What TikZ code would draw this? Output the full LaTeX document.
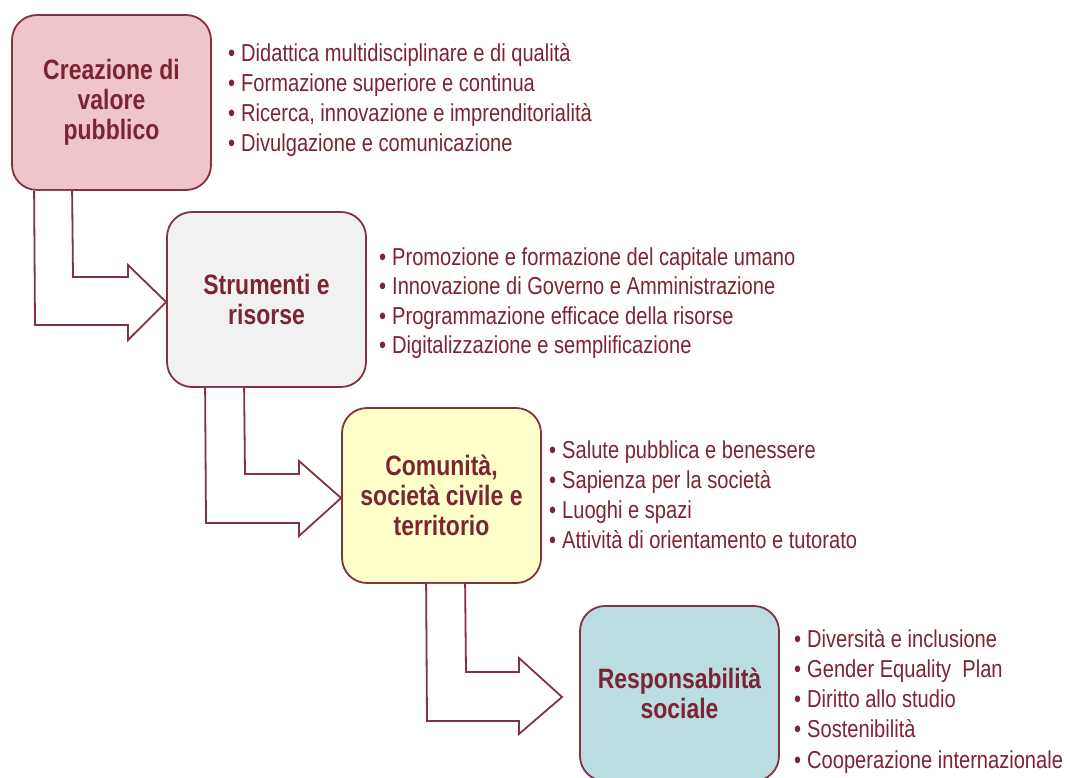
\documentclass[tikz,border=0pt]{standalone}
\usepackage{fontspec}
\setmainfont{Liberation Sans}[FakeStretch=0.82]
\usetikzlibrary{calc}
\definecolor{maroon}{HTML}{7D2434}
\definecolor{edge}{HTML}{84323F}
\definecolor{fillA}{HTML}{EFC4CB}
\definecolor{fillB}{HTML}{F1F1F1}
\definecolor{fillC}{HTML}{FFFFC9}
\definecolor{fillD}{HTML}{B9DDE0}
\tikzset{
  stage/.style={draw=edge, line width=1.8pt, rounded corners=25pt, minimum width=199pt, minimum height=175pt, inner sep=0pt, align=center, text=maroon, font=\fontsize{28}{30}\selectfont\bfseries},
  item/.style={anchor=base west, inner sep=0pt, text=maroon, font=\fontsize{24.5}{30}\selectfont},
  blockarrow/.style={draw=edge, line width=1.8pt, fill=white, line join=miter}
}
\newcommand{\bul}{•\hspace{6pt}}
\begin{document}
\begin{tikzpicture}[x=1pt,y=1pt]
\useasboundingbox (0,0) rectangle (1067,-778);
\clip (0,0) rectangle (1067,-778);
% boxes
\node[stage, fill=fillA] (s1) at (111.5,-102.5) {\raisebox{-2pt}{\parbox{190pt}{\centering Creazione di\\valore\\pubblico}}};
\node[stage, fill=fillB] (s2) at (266.5,-299.5) {Strumenti e\\risorse};
\node[stage, fill=fillC] (s3) at (441.5,-495.5) {Comunità,\\società civile e\\territorio};
\node[stage, fill=fillD] (s4) at (679.5,-693.5) {Responsabilità\\sociale};
% arrows
\draw[blockarrow] ([xshift=23pt]s1.south west) -- (35,-325) -- (128,-325) -- (128,-340) -- (s2.west |- 0,-302) -- (128,-265) -- (128,-277) -- (73,-277) -- ([xshift=61pt]s1.south west);
\draw[blockarrow] ([xshift=39pt]s2.south west) -- (206,-523) -- (299,-523) -- (299,-536) -- (s3.west |- 0,-498) -- (299,-461) -- (299,-474) -- (245,-474) -- ([xshift=78pt]s2.south west);
\draw[blockarrow] ([xshift=85pt]s3.south west) -- (427,-721) -- (519,-721) -- (519,-734) -- (562,-697) -- (519,-658) -- (519,-672) -- (466,-672) -- ([xshift=124pt]s3.south west);
% lists
\node[item] (a1) at (228,-62) {\bul Didattica multidisciplinare e di qualità};
\node[item] (a2) at (228,-92) {\bul Formazione superiore e continua};
\node[item] (a3) at (228,-122) {\bul Ricerca, innovazione e imprenditorialità};
\node[item] (a4) at (228,-152) {\bul Divulgazione e comunicazione};
\node[item] (b1) at (379,-265) {\bul Promozione e formazione del capitale umano};
\node[item] (b2) at (379,-294.5) {\bul Innovazione di Governo e Amministrazione};
\node[item] (b3) at (379,-324) {\bul Programmazione efficace della risorse};
\node[item] (b4) at (379,-353.5) {\bul Digitalizzazione e semplificazione};
\node[item] (c1) at (549,-458) {\bul Salute pubblica e benessere};
\node[item] (c2) at (549,-488) {\bul Sapienza per la società};
\node[item] (c3) at (549,-518) {\bul Luoghi e spazi};
\node[item] (c4) at (549,-548) {\bul Attività di orientamento e tutorato};
\node[item] (d1) at (794,-647) {\bul Diversità e inclusione};
\node[item] (d2) at (794,-677) {\bul Gender Equality~ Plan};
\node[item] (d3) at (794,-707.5) {\bul Diritto allo studio};
\node[item] (d4) at (794,-737.5) {\bul Sostenibilità};
\node[item] (d5) at (794,-768) {\bul Cooperazione internazionale};
\end{tikzpicture}
\end{document}
